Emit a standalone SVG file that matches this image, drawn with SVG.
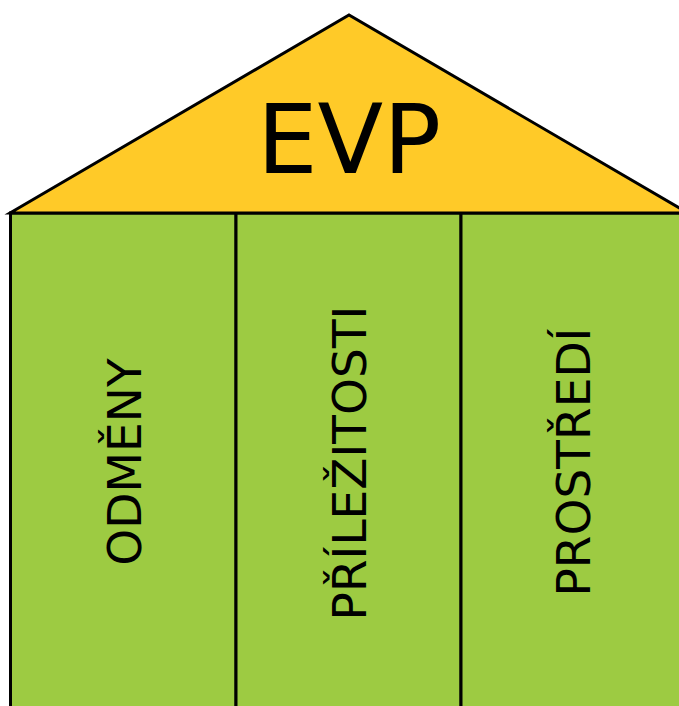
<svg xmlns="http://www.w3.org/2000/svg" width="679" height="706" viewBox="0 0 679 706">
  <style>
    .roof { fill: #FFCA28; stroke: #000; stroke-width: 3; stroke-linejoin: miter; }
    .pillar { fill: #9DCB42; stroke: #000; stroke-width: 3; }
    .title { font-family: "DejaVu Sans", sans-serif; font-size: 96px; fill: #000; text-anchor: middle; }
    .label { font-family: "DejaVu Sans", sans-serif; font-size: 47px; fill: #000; text-anchor: middle; }
  </style>
  <rect width="679" height="706" fill="#fff"/>
  <g id="pillar-odmeny">
    <rect class="pillar" x="10.5" y="213" width="225.5" height="510"/>
    <text class="label" transform="translate(141,462) rotate(-90)">ODMĚNY</text>
  </g>
  <g id="pillar-prilezitosti">
    <rect class="pillar" x="236" y="213" width="225" height="510"/>
    <text class="label" font-size="48" transform="translate(366,463) rotate(-90)">PŘÍLEŽITOSTI</text>
  </g>
  <g id="pillar-prostredi">
    <rect class="pillar" x="461" y="213" width="240" height="510"/>
    <text class="label" transform="translate(590,462) rotate(-90)">PROSTŘEDÍ</text>
  </g>
  <g id="roof-evp">
    <polygon class="roof" points="10,213 349,15 688,213"/>
    <text class="title" x="349" y="173">EVP</text>
  </g>
  <g id="connectors"/>
</svg>
